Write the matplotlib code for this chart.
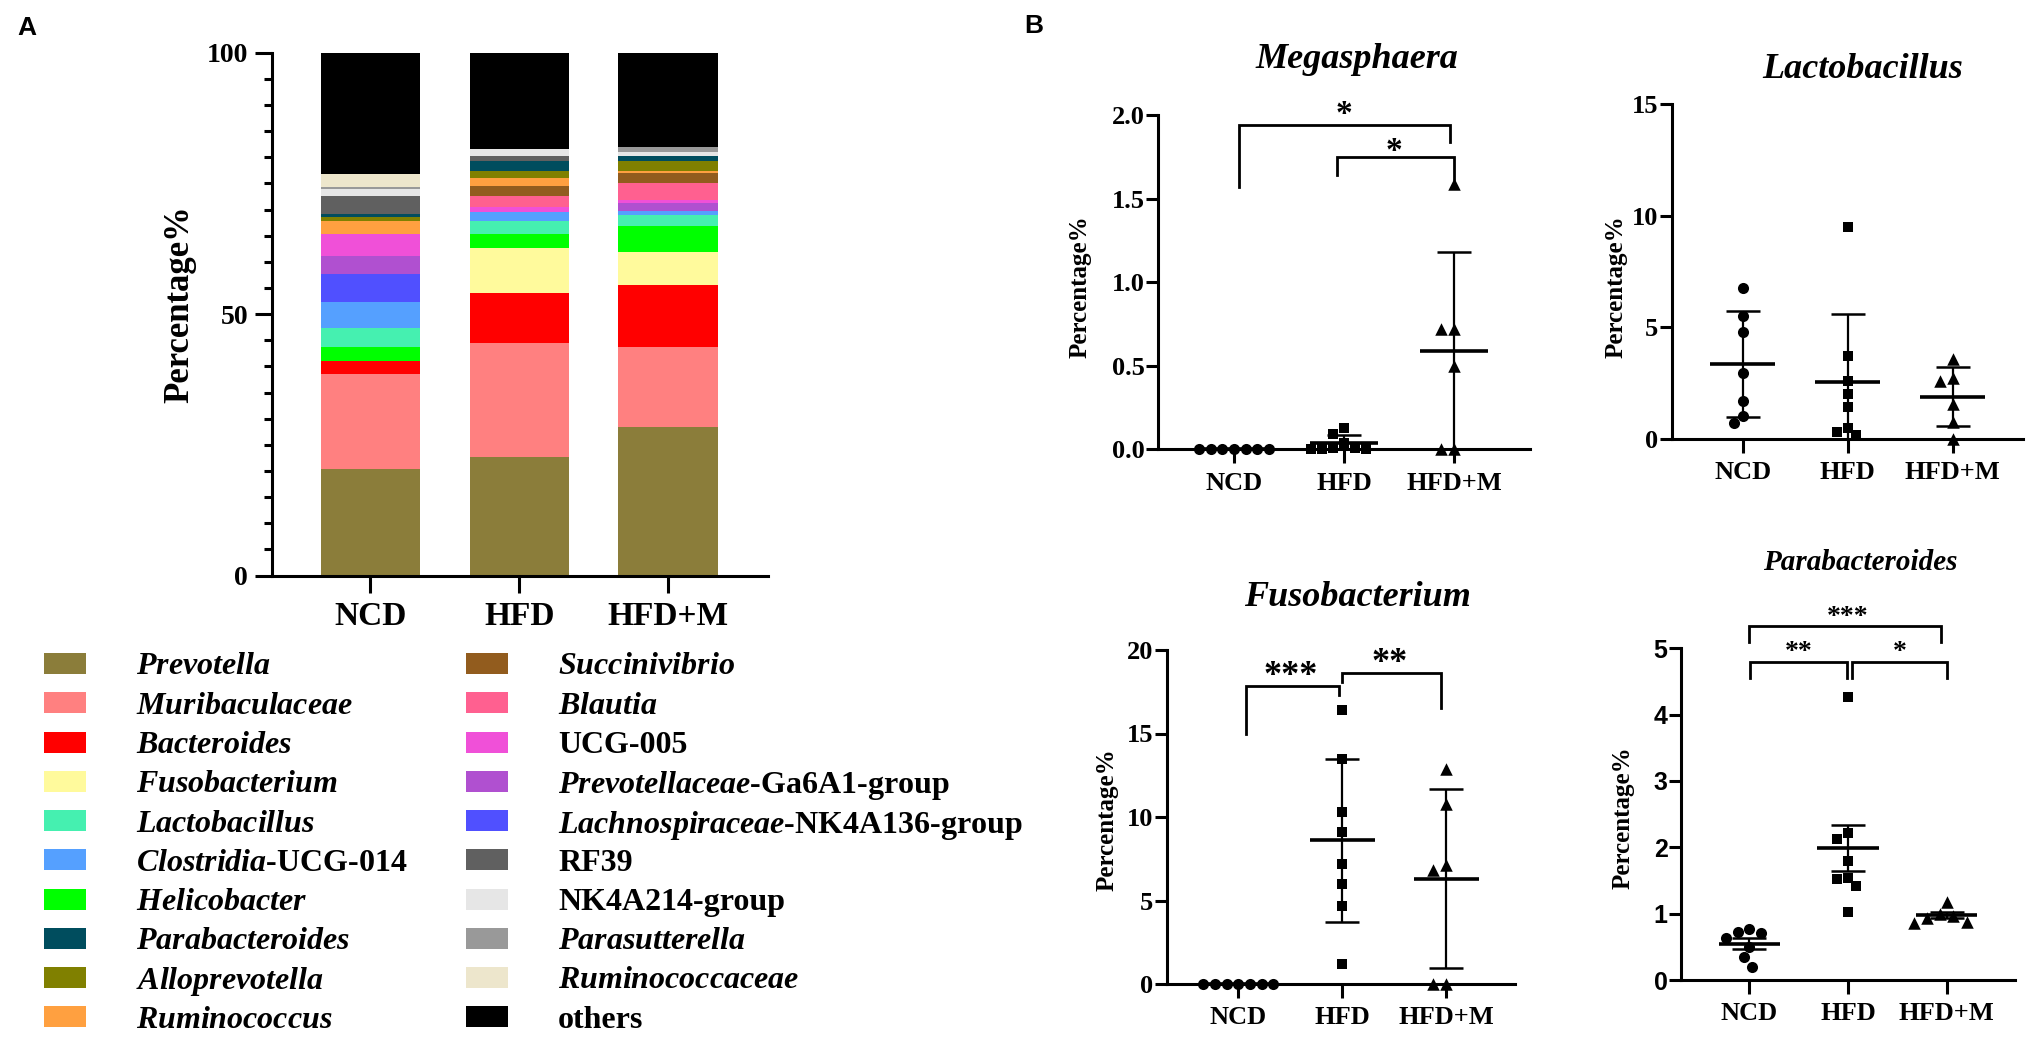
import numpy as np
import matplotlib
matplotlib.use('Agg')
import matplotlib.pyplot as plt
from matplotlib.patches import Rectangle
from matplotlib.ticker import MultipleLocator

plt.rcParams['font.family'] = ['Liberation Serif', 'DejaVu Serif']
plt.rcParams['font.weight'] = 'bold'
plt.rcParams['mathtext.fontset'] = 'custom'
plt.rcParams['mathtext.it'] = 'Liberation Serif:italic:bold'
plt.rcParams['mathtext.rm'] = 'Liberation Serif:bold'
plt.rcParams['mathtext.bf'] = 'Liberation Serif:bold'

# ---------------- data: panel A (relative abundance, %) ----------------
groups = ['NCD', 'HFD', 'HFD+M']
taxa = ['Prevotella', 'Muribaculaceae', 'Bacteroides', 'Fusobacterium', 'Helicobacter',
        'Lactobacillus', 'Clostridia-UCG-014', 'Lachnospiraceae-NK4A136-group',
        'Prevotellaceae-Ga6A1-group', 'UCG-005', 'Blautia', 'Succinivibrio', 'Ruminococcus',
        'Alloprevotella', 'Parabacteroides', 'RF39', 'NK4A214-group', 'Parasutterella',
        'Ruminococcaceae', 'others']
ncd_pct = [20.4, 18.1, 2.5, 0.0, 2.8, 3.5, 5.0, 5.4, 3.4, 4.3, 0.0, 0.0, 2.4, 0.7, 0.6,
           3.5, 1.3, 0.5, 2.4, 23.2]
hfd_pct = [22.7, 21.7, 9.7, 8.5, 2.7, 2.5, 1.8, 0.0, 0.0, 0.9, 2.1, 2.0, 1.5, 1.3, 1.9,
           0.9, 1.4, 0.0, 0.0, 18.4]
hfdm_pct = [28.5, 15.3, 11.8, 6.3, 4.9, 2.1, 0.9, 0.0, 1.5, 0.5, 3.3, 1.9, 0.4, 1.9, 0.9,
            0.0, 0.8, 1.0, 0.0, 18.0]
taxa_colors = ['#8B7D3A', '#FF8080', '#FF0000', '#FFFA9C', '#00FF00', '#45F0B0', '#55A0FF',
               '#5050FF', '#B050D0', '#F050D8', '#FF6090', '#925C1E', '#FFA040', '#808000',
               '#004D5E', '#606060', '#E6E6E6', '#999999', '#EDE6CC', '#000000']
legend_col1 = ['Prevotella', 'Muribaculaceae', 'Bacteroides', 'Fusobacterium', 'Lactobacillus',
               'Clostridia-UCG-014', 'Helicobacter', 'Parabacteroides', 'Alloprevotella',
               'Ruminococcus']
legend_col2 = ['Succinivibrio', 'Blautia', 'UCG-005', 'Prevotellaceae-Ga6A1-group',
               'Lachnospiraceae-NK4A136-group', 'RF39', 'NK4A214-group', 'Parasutterella',
               'Ruminococcaceae', 'others']
legend_text = {
    'Prevotella': r'$\mathit{Prevotella}$', 'Muribaculaceae': r'$\mathit{Muribaculaceae}$',
    'Bacteroides': r'$\mathit{Bacteroides}$', 'Fusobacterium': r'$\mathit{Fusobacterium}$',
    'Lactobacillus': r'$\mathit{Lactobacillus}$', 'Clostridia-UCG-014': r'$\mathit{Clostridia}$-UCG-014',
    'Helicobacter': r'$\mathit{Helicobacter}$', 'Parabacteroides': r'$\mathit{Parabacteroides}$',
    'Alloprevotella': r'$\mathit{Alloprevotella}$', 'Ruminococcus': r'$\mathit{Ruminococcus}$',
    'Succinivibrio': r'$\mathit{Succinivibrio}$', 'Blautia': r'$\mathit{Blautia}$',
    'UCG-005': 'UCG-005', 'Prevotellaceae-Ga6A1-group': r'$\mathit{Prevotellaceae}$-Ga6A1-group',
    'Lachnospiraceae-NK4A136-group': r'$\mathit{Lachnospiraceae}$-NK4A136-group',
    'RF39': 'RF39', 'NK4A214-group': 'NK4A214-group', 'Parasutterella': r'$\mathit{Parasutterella}$',
    'Ruminococcaceae': r'$\mathit{Ruminococcaceae}$', 'others': 'others'}

# ---------------- data: panel B (per-animal %, mean, SD) ----------------
mega_vals = [[0, 0, 0, 0, 0, 0, 0],
             [0.13, 0.09, 0.04, 0.01, 0.01, 0.0, 0.0, 0.0],
             [1.59, 0.72, 0.72, 0.50, 0.0, 0.0]]
mega_mean = [0.0, 0.035, 0.59]
mega_sd = [0.0, 0.05, 0.59]

lacto_vals = [[6.76, 5.49, 4.81, 2.94, 1.70, 1.03, 0.70],
              [9.52, 3.72, 2.60, 2.02, 1.45, 0.51, 0.30, 0.18],
              [3.57, 2.72, 2.60, 1.57, 0.75, 0.0]]
lacto_mean = [3.36, 2.54, 1.90]
lacto_sd = [2.37, 3.06, 1.33]

fuso_vals = [[0, 0, 0, 0, 0, 0, 0],
             [16.4, 13.5, 10.3, 9.1, 7.2, 6.0, 4.7, 1.2],
             [12.85, 10.8, 7.1, 6.85, 0.0, 0.0]]
fuso_mean = [0.0, 8.6, 6.3]
fuso_sd = [0.0, 4.9, 5.35]

para_vals = [[0.77, 0.72, 0.71, 0.63, 0.49, 0.34, 0.20],
             [4.27, 2.21, 2.12, 1.79, 1.54, 1.52, 1.41, 1.03],
             [1.18, 1.00, 0.96, 0.93, 0.88, 0.86]]
para_mean = [0.55, 1.99, 0.98]
para_sd = [0.08, 0.34, 0.04]

# significance brackets: (x_left, x_right, y_top, y_left_end, y_right_end, label, label_x, label_y)
mega_brackets = [(0.05, 1.96, 1.94, 1.57, 1.84, '*', 1.0, 2.0),
                 (0.94, 2.0, 1.75, 1.64, 1.62, '*', 1.45, 1.78)]
fuso_brackets = [(0.07, 0.97, 17.84, 15.0, 17.3, '***', 0.5, 18.4),
                 (1.0, 1.95, 18.6, 18.1, 16.5, '**', 1.45, 19.2)]
para_brackets = [(0.01, 0.99, 4.80, 4.55, 4.55, '**', 0.5, 4.93),
                 (1.04, 2.0, 4.80, 4.55, 4.55, '*', 1.52, 4.93),
                 (0.0, 1.94, 5.34, 5.10, 5.10, '***', 1.0, 5.47)]

# ---------------- figure ----------------
W, H = 2033, 1037
fig = plt.figure(figsize=(W / 100, H / 100), dpi=100)


def add_ax(left, right, top, bottom):
    return fig.add_axes([left / W, 1 - bottom / H, (right - left) / W, (bottom - top) / H])


def ftext(x, y, s, **kw):
    return fig.text(x / W, 1 - y / H, s, **kw)


def style_axes(ax, lw=2.2):
    for s in ['top', 'right']:
        ax.spines[s].set_visible(False)
    for s in ['left', 'bottom']:
        ax.spines[s].set_linewidth(lw)
        ax.spines[s].set_color('black')


# ---------------- panel A ----------------
axA = add_ax(271.7, 768, 52.7, 575.6)
xA = np.arange(len(groups))
bottoms = np.zeros(len(groups))
for i, name in enumerate(taxa):
    vals = np.array([ncd_pct[i], hfd_pct[i], hfdm_pct[i]])
    axA.bar(xA, vals, bottom=bottoms, width=0.667, color=taxa_colors[i], edgecolor='none',
            zorder=1, label=name)
    bottoms = bottoms + vals
axA.set_xlim(-0.664, 2.672)
axA.set_ylim(0, 100)
style_axes(axA)
axA.set_yticks([0, 50, 100])
axA.yaxis.set_minor_locator(MultipleLocator(5))
axA.set_xticks(xA)
axA.set_xticklabels(groups)
axA.tick_params(axis='y', which='major', length=12, width=2.2, labelsize=20, pad=5)
axA.tick_params(axis='y', which='minor', length=6, width=2.2)
axA.tick_params(axis='x', which='major', length=12.5, width=2.2, labelsize=24, pad=6)
ftext(180, 304, 'Percentage%', rotation=90, ha='center', va='center', fontsize=25,
      fontweight='bold')

# legend (manual layout)
for col, names in enumerate([legend_col1, legend_col2]):
    px = [44, 466][col]
    tx = [136, 558][col]
    for r, name in enumerate(names):
        yc = 663.5 + 39.25 * r
        c = taxa_colors[taxa.index(name)]
        fig.add_artist(Rectangle((px / W, 1 - (yc + 10.5) / H), 42 / W, 21 / H,
                                 transform=fig.transFigure, facecolor=c, edgecolor='none'))
        ftext(tx, yc, legend_text[name], ha='left', va='center_baseline', fontsize=23,
              fontweight='bold')

# ---------------- panel B ----------------
markers = ['o', 's', '^']
msizes = [8.0, 7.5, 9.0]


def swarm_x(ax, x0, vals, d_px):
    trans = ax.transData
    pts = trans.transform(np.column_stack([np.full(len(vals), float(x0)), np.asarray(vals, float)]))
    step = d_px / 4.0
    cands = [0.0]
    for k in range(1, 120):
        cands += [-k * step, k * step]
    placed = []
    for px, py in pts:
        chosen = cands[-1]
        for c in cands:
            if all((px + c - qx) ** 2 + (py - qy) ** 2 >= (0.97 * d_px) ** 2 for qx, qy in placed):
                chosen = c
                break
        placed.append((px + chosen, py))
    return trans.inverted().transform(np.array(placed))[:, 0]


def scatter_panel(rect, xlim, ylim_top, yticks, yfmt, vals, means, sds, brackets, title,
                  title_xy, title_size, ylabel_xy, star_size, ytick_family=None,
                  ytick_size=19):
    ax = add_ax(*rect)
    ax.set_xlim(*xlim)
    ax.set_ylim(0, ylim_top)
    style_axes(ax)
    x = np.arange(len(groups))
    for g in range(len(groups)):
        d_px = msizes[g] * 100 / 72 * 1.05
        xs = swarm_x(ax, x[g], vals[g], d_px)
        ax.scatter(xs, vals[g], marker=markers[g], s=msizes[g] ** 2, color='black',
                   zorder=4, clip_on=False, linewidths=0)
        ax.errorbar([x[g]], [means[g]], yerr=[sds[g]], fmt='none', ecolor='black',
                    elinewidth=1.6, capsize=12, capthick=1.8, zorder=3)
        ax.hlines(means[g], x[g] - 0.31, x[g] + 0.31, color='black', lw=2.6, zorder=3)
    for (x1, x2, yt, yl, yr, lab, lx, ly) in brackets:
        ax.plot([x1, x1, x2, x2], [yl, yt, yt, yr], color='black', lw=2.0, clip_on=False,
                solid_joinstyle='miter', zorder=5)
        ax.text(lx, ly, lab, ha='center', va='center', fontsize=star_size,
                fontweight='bold', clip_on=False)
    ax.set_yticks(yticks)
    ax.set_yticklabels([yfmt.format(v) for v in yticks])
    if ytick_family:
        for t in ax.get_yticklabels():
            t.set_family(ytick_family)
    ax.set_xticks(x)
    ax.set_xticklabels(groups)
    ax.tick_params(axis='y', length=8.5, width=2.2, labelsize=ytick_size, pad=1)
    ax.tick_params(axis='x', length=10, width=2.2, labelsize=19, pad=6)
    ftext(title_xy[0], title_xy[1], title, ha='center', va='center', fontsize=title_size,
          fontstyle='italic', fontweight='bold')
    ftext(ylabel_xy[0], ylabel_xy[1], 'Percentage%', rotation=90, ha='center', va='center',
          fontsize=18, fontweight='bold')
    return ax


scatter_panel((1158, 1530, 115, 449.3), (-0.69, 2.69), 2.0, [0, 0.5, 1.0, 1.5, 2.0], '{:.1f}',
              mega_vals, mega_mean, mega_sd, mega_brackets, 'Megasphaera', (1357, 60), 26,
              (1080, 287), 24)
scatter_panel((1671.7, 2023, 104.3, 439), (-0.676, 2.67), 15, [0, 5, 10, 15], '{:.0f}',
              lacto_vals, lacto_mean, lacto_sd, [], 'Lactobacillus', (1863, 70), 26,
              (1616, 287), 24)
scatter_panel((1166.7, 1515, 650, 984), (-0.69, 2.66), 20, [0, 5, 10, 15, 20], '{:.0f}',
              fuso_vals, fuso_mean, fuso_sd, fuso_brackets, 'Fusobacterium', (1357, 597), 26,
              (1107, 820), 26)
scatter_panel((1680.7, 2015, 648.3, 980), (-0.695, 2.69), 5, [0, 1, 2, 3, 4, 5], '{:.0f}',
              para_vals, para_mean, para_sd, para_brackets, 'Parabacteroides', (1860, 562), 21,
              (1623, 818), 20, ytick_family='Liberation Sans', ytick_size=18)

ftext(27, 28, 'A', ha='center', va='center', fontsize=19, fontweight='bold',
      family='Liberation Sans')
ftext(1034, 26, 'B', ha='center', va='center', fontsize=19, fontweight='bold',
      family='Liberation Sans')

fig.savefig('out.png', dpi=100, facecolor='white')
